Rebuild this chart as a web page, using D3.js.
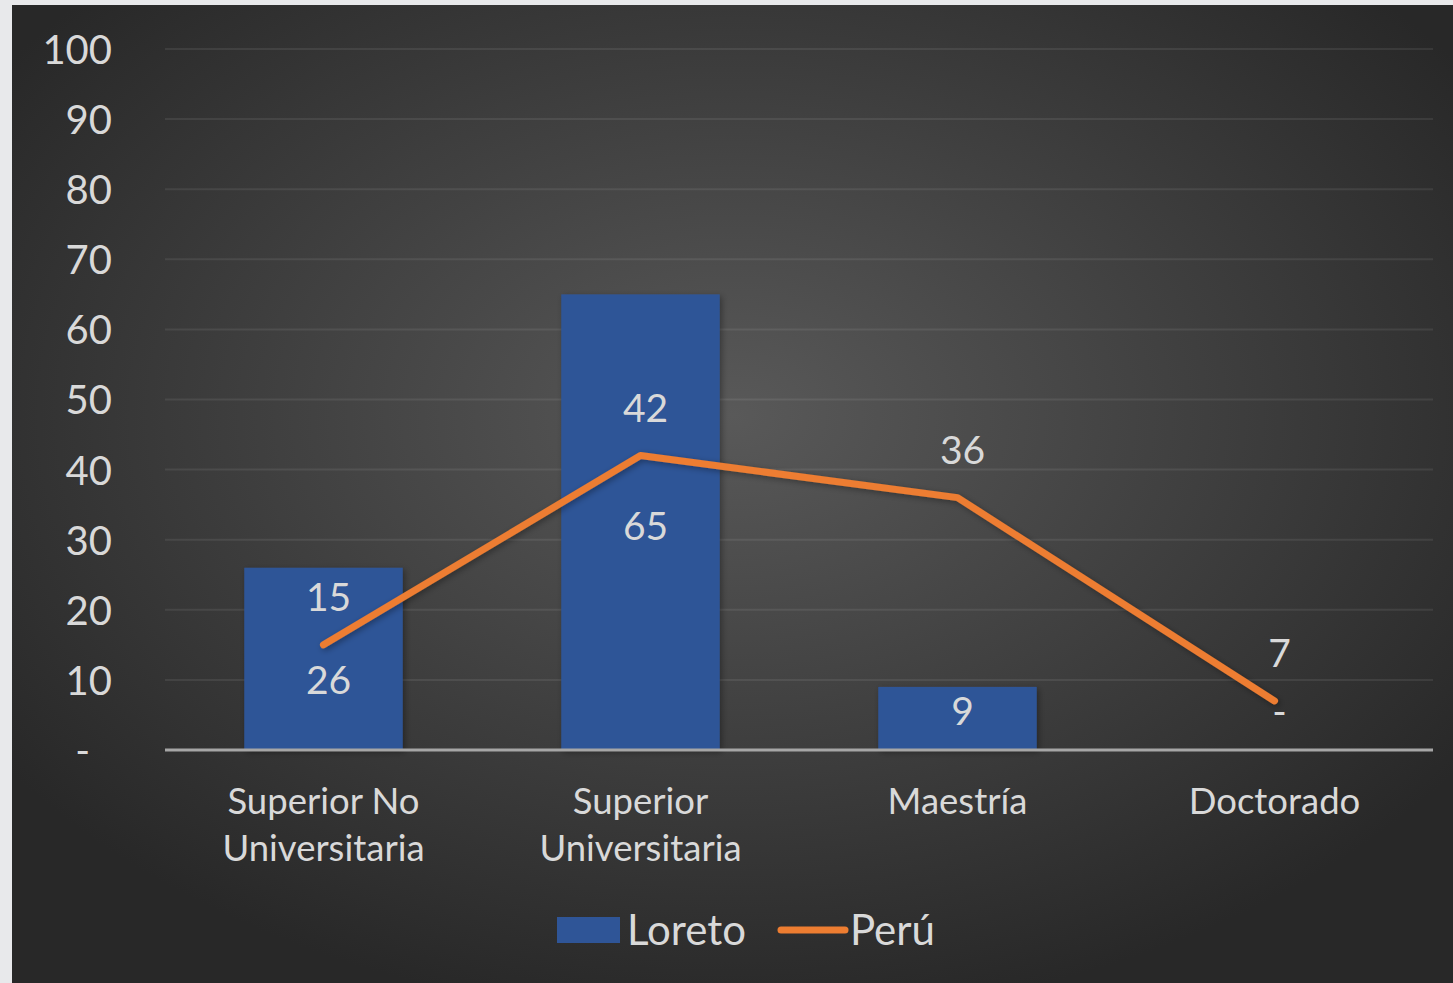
<!DOCTYPE html>
<html><head><meta charset="utf-8">
<script src="https://cdn.jsdelivr.net/npm/d3@7"></script>
<style>
html,body{margin:0;padding:0;background:#e8e9eb;overflow:hidden;}
svg{display:block;}
text{font-family:"Lato","Open Sans",sans-serif;fill:#d9d9d9;}
</style></head>
<body>
<svg id="chart" width="1453" height="983"></svg>
<script>
const categories = [["Superior No","Universitaria"],["Superior","Universitaria"],["Maestría"],["Doctorado"]];
const loreto = [26, 65, 9, 0];
const peru = [15, 42, 36, 7];
const yTicks = [0,10,20,30,40,50,60,70,80,90,100];
const loretoLabelAt = [10, 32, 5.5, 5.5];
const seriesNames = ["Loreto","Perú"];

const W=1453,H=983;
const svg=d3.select("#chart");
const defs=svg.append("defs");
const rg=defs.append("radialGradient").attr("id","bg").attr("cx","50%").attr("cy","42%").attr("r","62%");
rg.append("stop").attr("offset","0%").attr("stop-color","#595959");
rg.append("stop").attr("offset","100%").attr("stop-color","#282828");
const f=defs.append("filter").attr("id","sh").attr("x","-20%").attr("y","-20%").attr("width","140%").attr("height","140%");
f.append("feDropShadow").attr("dx",2).attr("dy",2).attr("stdDeviation",3).attr("flood-color","#000").attr("flood-opacity",0.35);

svg.append("rect").attr("x",12).attr("y",5).attr("width",W-12).attr("height",H-5).attr("fill","url(#bg)");

const x=d3.scaleBand().domain(d3.range(categories.length)).range([165,1433]).paddingInner(0).paddingOuter(0);
const y=d3.scaleLinear().domain([0,100]).range([750,49]);

// gridlines
svg.append("g").selectAll("line").data(yTicks.filter(d=>d>0)).join("line")
  .attr("x1",165).attr("x2",1433).attr("y1",d=>y(d)).attr("y2",d=>y(d))
  .attr("stroke","rgba(255,255,255,0.08)").attr("stroke-width",2);

// y axis
const yAxis=d3.axisLeft(y).tickValues(yTicks).tickSize(0).tickPadding(0).tickFormat(d=>d===0?"-":d);
const ya=svg.append("g").attr("transform","translate(112,0)").call(yAxis);
ya.select(".domain").remove();
ya.selectAll("text").attr("font-size",40).attr("fill","#d9d9d9").attr("dy","0.36em").style("font-family","Lato, 'Open Sans', sans-serif")
  .attr("dx",d=>d===0?-22:0);

// bars
const bw=x.bandwidth()*0.5;
svg.append("g").selectAll("rect").data(loreto).join("rect")
  .attr("x",(d,i)=>x(i)+x.bandwidth()/2-bw/2).attr("width",bw)
  .attr("y",d=>y(d)).attr("height",d=>y(0)-y(d))
  .attr("fill","#2f5597").attr("filter","url(#sh)");

// baseline
svg.append("line").attr("x1",165).attr("x2",1433).attr("y1",y(0)).attr("y2",y(0))
  .attr("stroke","#a6a6a6").attr("stroke-width",3);

// x labels
const xa=svg.append("g");
categories.forEach((lines,i)=>{
  const t=xa.append("text").attr("text-anchor","middle").attr("font-size",36.5)
    .attr("x",x(i)+x.bandwidth()/2).attr("y",814);
  lines.forEach((l,j)=>t.append("tspan").attr("x",x(i)+x.bandwidth()/2).attr("dy",j===0?0:47).text(l));
});

// line
const line=d3.line().x((d,i)=>x(i)+x.bandwidth()/2).y(d=>y(d));
svg.append("path").datum(peru).attr("d",line).attr("fill","none")
  .attr("stroke","#ed7d31").attr("stroke-width",7).attr("stroke-linecap","round").attr("stroke-linejoin","round")
  .attr("filter","url(#sh)");

// labels loreto
svg.append("g").selectAll("text").data(loreto).join("text")
  .attr("x",(d,i)=>x(i)+x.bandwidth()/2+5).attr("y",(d,i)=>y(loretoLabelAt[i]))
  .attr("dy","0.36em").attr("text-anchor","middle").attr("font-size",39)
  .text(d=>d===0?"-":d);
// labels peru
svg.append("g").selectAll("text").data(peru).join("text")
  .attr("x",(d,i)=>x(i)+x.bandwidth()/2+5).attr("y",d=>y(d)-48)
  .attr("dy","0.36em").attr("text-anchor","middle").attr("font-size",39)
  .text(d=>d);

// legend
const lg=svg.append("g");
lg.append("rect").attr("x",557).attr("y",917).attr("width",63).attr("height",26).attr("fill","#2f5597");
lg.append("text").attr("x",627).attr("y",930).attr("dy","0.36em").attr("font-size",42).text(seriesNames[0]);
lg.append("line").attr("x1",781).attr("x2",845).attr("y1",930).attr("y2",930)
  .attr("stroke","#ed7d31").attr("stroke-width",7).attr("stroke-linecap","round");
lg.append("text").attr("x",850).attr("y",930).attr("dy","0.36em").attr("font-size",42).text(seriesNames[1]);
</script>
</body></html>
